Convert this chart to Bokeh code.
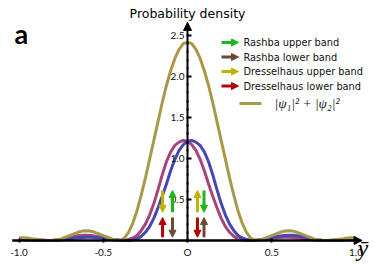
import numpy as np
from bokeh.plotting import figure
from bokeh.models import Range1d, FixedTicker, Arrow, NormalHead, Label, ColumnDataSource
from bokeh.embed import file_html
from bokeh.resources import INLINE

# ---------------- data ----------------
y_pos = np.round(np.arange(-1.0, 1.0001, 0.025), 3).tolist()

total_density = [0.035, 0.034, 0.03, 0.022, 0.015, 0.008, 0.003, 0.0, 0.0, 0.007,
                 0.02, 0.04, 0.06, 0.08, 0.10, 0.115, 0.12, 0.115, 0.10, 0.08,
                 0.06, 0.04, 0.02, 0.005, 0.0, 0.03, 0.10, 0.21, 0.36, 0.55,
                 0.76, 0.99, 1.22, 1.45, 1.68, 1.89, 2.07, 2.22, 2.33, 2.40,
                 2.42,
                 2.40, 2.33, 2.22, 2.07, 1.89, 1.68, 1.45, 1.22, 0.99, 0.76,
                 0.55, 0.36, 0.21, 0.10, 0.03, 0.0, 0.005, 0.02, 0.04, 0.06,
                 0.08, 0.10, 0.115, 0.12, 0.115, 0.10, 0.08, 0.06, 0.04, 0.02,
                 0.007, 0.0, 0.0, 0.003, 0.008, 0.015, 0.022, 0.03, 0.034, 0.035]

psi1_density = [0.015, 0.013, 0.010, 0.007, 0.004, 0.002, 0.0, 0.0, 0.002, 0.008,
                0.017, 0.028, 0.040, 0.051, 0.059, 0.064, 0.065, 0.062, 0.055, 0.045,
                0.034, 0.022, 0.012, 0.004, 0.0, 0.003, 0.012, 0.030, 0.06, 0.12,
                0.20, 0.31, 0.45, 0.62, 0.80, 0.96, 1.08, 1.16, 1.20, 1.22,
                1.21,
                1.17, 1.10, 0.99, 0.85, 0.69, 0.54, 0.40, 0.27, 0.17, 0.10,
                0.05, 0.02, 0.005, 0.0, 0.002, 0.005, 0.010, 0.015, 0.020, 0.026,
                0.032, 0.036, 0.039, 0.040, 0.038, 0.034, 0.027, 0.019, 0.011, 0.005,
                0.001, 0.0, 0.0, 0.002, 0.004, 0.006, 0.008, 0.009, 0.010, 0.010]

psi2_density = [0.010, 0.010, 0.009, 0.008, 0.006, 0.004, 0.002, 0.0, 0.0, 0.001,
                0.005, 0.011, 0.019, 0.027, 0.034, 0.038, 0.040, 0.039, 0.036, 0.032,
                0.026, 0.020, 0.015, 0.010, 0.005, 0.002, 0.0, 0.005, 0.02, 0.05,
                0.10, 0.17, 0.27, 0.40, 0.54, 0.69, 0.85, 0.99, 1.10, 1.17,
                1.21,
                1.22, 1.20, 1.16, 1.08, 0.96, 0.80, 0.62, 0.45, 0.31, 0.20,
                0.12, 0.06, 0.030, 0.012, 0.003, 0.0, 0.004, 0.012, 0.022, 0.034,
                0.045, 0.055, 0.062, 0.065, 0.064, 0.059, 0.051, 0.040, 0.028, 0.017,
                0.008, 0.002, 0.0, 0.0, 0.002, 0.004, 0.007, 0.010, 0.013, 0.015]

x_ticks = [-1.0, -0.5, 0.0, 0.5, 1.0]
x_tick_labels = ["-1.0", "-0.5", "O", "0.5", "1.0"]
y_ticks = [0.5, 1.0, 1.5, 2.0, 2.5]
y_tick_labels = ["0.5", "1.0", "1.5", "2.0", "2.5"]

legend_labels = ["Rashba upper band", "Rashba lower band",
                 "Dresselhaus upper band", "Dresselhaus lower band"]
legend_colors = ["#1fb51f", "#6b4a33", "#bdb300", "#b30000"]

# spin arrows: x position, start, end, colour
spin_x = [-0.148, -0.089, -0.148, -0.089, 0.059, 0.098, 0.059, 0.098]
spin_start = [0.61, 0.345, 0.04, 0.28, 0.345, 0.61, 0.28, 0.04]
spin_end = [0.345, 0.61, 0.28, 0.04, 0.61, 0.345, 0.04, 0.28]
spin_colors = ["#bdb300", "#1fb51f", "#b30000", "#6b4a33",
               "#bdb300", "#1fb51f", "#b30000", "#6b4a33"]

# ---------------- figure ----------------
W, H = 372, 262
X0, X1 = -1.1098, 1.0979
Y0, Y1 = -0.2683, 2.9268

def px_x(px):  # canvas pixel -> data x
    return X0 + px / W * (X1 - X0)

def px_y(py):  # canvas pixel -> data y
    return Y1 - py / H * (Y1 - Y0)

FONT = "Lato"
TFONT = "DejaVu Sans"

p = figure(width=W, height=H, x_range=Range1d(X0, X1), y_range=Range1d(Y0, Y1),
           output_backend="svg", toolbar_location=None, min_border=0,
           title=None)
p.outline_line_color = None
p.grid.visible = False
p.background_fill_color = "white"
p.border_fill_color = "white"

# axes at the origin
xa = p.xaxis[0]
ya = p.yaxis[0]
xa.fixed_location = 0
ya.fixed_location = 0
xa.ticker = FixedTicker(ticks=x_ticks, minor_ticks=[])
ya.ticker = FixedTicker(ticks=y_ticks, minor_ticks=[round(0.1 * i, 1) for i in range(1, 26)])
xa.major_label_overrides = {t: l for t, l in zip(x_ticks, x_tick_labels)}
ya.major_label_overrides = {t: l for t, l in zip(y_ticks, y_tick_labels)}
for ax in (xa, ya):
    ax.axis_line_color = None
    ax.major_label_text_font = FONT
    ax.major_label_text_font_size = "10px"
    ax.major_label_text_color = "#111111"
    ax.major_tick_line_color = "black"
    ax.minor_tick_line_color = "black"
xa.major_tick_in = 2
xa.major_tick_out = 2
xa.major_tick_line_width = 2
xa.major_label_standoff = 4
ya.major_tick_in = 4
ya.major_tick_out = 0
ya.major_tick_line_width = 2
ya.minor_tick_in = 1
ya.minor_tick_out = 1
ya.minor_tick_line_width = 2
ya.major_label_standoff = 2

# axis arrows
p.add_layout(Arrow(x_start=-1.04, y_start=0, x_end=1.036, y_end=0,
                   line_color="black", line_width=2.5,
                   end=NormalHead(size=8, fill_color="black", line_color="black")))
p.add_layout(Arrow(x_start=0, y_start=0, x_end=0, y_end=2.66,
                   line_color="black", line_width=2,
                   end=NormalHead(size=8, fill_color="black", line_color="black")))

src = ColumnDataSource(dict(y=y_pos, tot=total_density, a=psi1_density, b=psi2_density))
p.line("y", "a", source=src, line_color="#a8447c", line_width=3)
p.line("y", "b", source=src, line_color="#4646b4", line_width=3)
p.line("y", "tot", source=src, line_color="#a8994a", line_width=3)

# spin arrows
for sx, s0, s1, c in zip(spin_x, spin_start, spin_end, spin_colors):
    p.add_layout(Arrow(x_start=sx, y_start=s0, x_end=sx, y_end=s1,
                       line_color=c, line_width=3,
                       end=NormalHead(size=7, fill_color=c, line_color=c)))

# legend (manual)
row_y = [42, 56.5, 71, 85.5]
for lab, c, ry in zip(legend_labels, legend_colors, row_y):
    p.add_layout(Arrow(x_start=px_x(221), y_start=px_y(ry), x_end=px_x(238), y_end=px_y(ry),
                       line_color=c, line_width=3,
                       end=NormalHead(size=7, fill_color=c, line_color=c)))
    p.add_layout(Label(x=px_x(243), y=px_y(ry), text=lab, text_font=TFONT,
                       text_font_size="9.8px", text_baseline="middle",
                       text_color="#111111"))
p.line(x=[px_x(239), px_x(261)], y=[px_y(103), px_y(103)], line_color="#a8994a", line_width=3)
p.add_layout(Label(x=px_x(274), y=px_y(103), text="|ψ₁|² + |ψ₂|²",
                   text_font="Liberation Serif", text_font_style="italic",
                   text_font_size="13.5px", text_baseline="middle", text_color="#111111"))

# titles / labels
p.add_layout(Label(x=0, y=px_y(12.5), text="Probability density", text_font=TFONT,
                   text_font_size="12.5px", text_align="center", text_baseline="middle",
                   text_color="black"))
p.add_layout(Label(x=px_x(14), y=px_y(33), text="a", text_font=FONT,
                   text_font_size="27px", text_font_style="bold",
                   text_baseline="alphabetic", text_color="black"))
p.add_layout(Label(x=px_x(357), y=px_y(247), text="ȳ", text_font="Liberation Serif",
                   text_font_style="italic", text_font_size="24px",
                   text_baseline="middle", text_color="black"))

open("out.html", "w").write(file_html(p, INLINE))
